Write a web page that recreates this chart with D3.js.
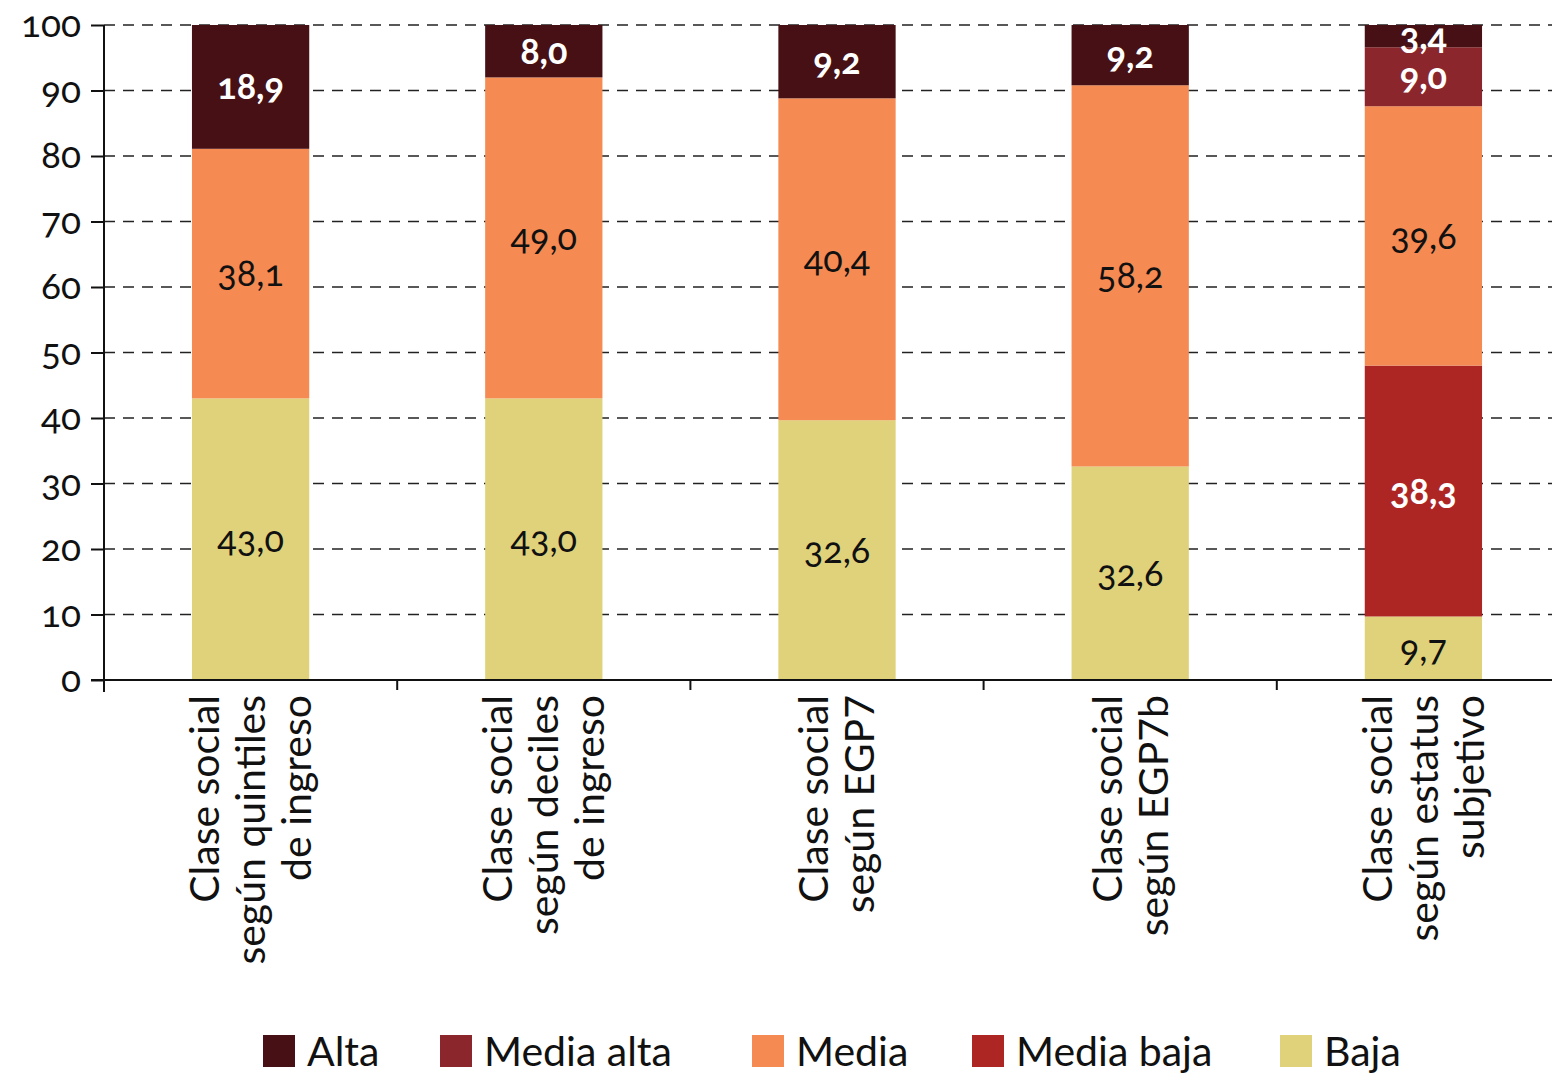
<!DOCTYPE html>
<html>
<head>
<meta charset="utf-8">
<title>Clase social</title>
<script src="https://d3js.org/d3.v7.min.js"></script>
<style>
  body { margin: 0; background: #fff; }
  text { font-family: Lato, "Open Sans", sans-serif; }
  .num { font-variant-numeric: oldstyle-nums; font-feature-settings: "onum" 1; }
</style>
</head>
<body>
<script>
// datos
var categories = [
    ["Clase social", "según quintiles", "de ingreso"],
    ["Clase social", "según deciles", "de ingreso"],
    ["Clase social", "según EGP7"],
    ["Clase social", "según EGP7b"],
    ["Clase social", "según estatus", "subjetivo"]
];
var seriesNames = ["Alta", "Media alta", "Media", "Media baja", "Baja"];
var alta      = [18.9, 8.0, 9.2, 9.2, 3.4];
var mediaAlta = [0, 0, 0, 0, 9.0];
var media     = [38.1, 49.0, 40.4, 58.2, 39.6];
var mediaBaja = [0, 0, 0, 0, 38.3];
var baja      = [43.0, 43.0, 32.6, 32.6, 9.7];
var yTicks = [0, 10, 20, 30, 40, 50, 60, 70, 80, 90, 100];

var colors = {
    "Alta": "#461014",
    "Media alta": "#8b272c",
    "Media": "#f58a53",
    "Media baja": "#ad2624",
    "Baja": "#e0d27a"
};
var whiteLabel = { "Alta": true, "Media alta": true, "Media baja": true };

var W = 1552, H = 1074;
var mLeft = 104, mTop = 25, yBase = 680;

var svg = d3.select("body").append("svg")
    .attr("width", W)
    .attr("height", H);

// tabla para d3.stack
var table = categories.map(function(c, i) {
    return {
        idx: i,
        "Alta": alta[i],
        "Media alta": mediaAlta[i],
        "Media": media[i],
        "Media baja": mediaBaja[i],
        "Baja": baja[i]
    };
});
var stackKeys = seriesNames.slice().reverse(); // Baja abajo
var stacked = d3.stack().keys(stackKeys).offset(d3.stackOffsetExpand)(table);

var xScale = d3.scaleBand()
    .domain(d3.range(categories.length))
    .range([mLeft, mLeft + 5 * 293.2])
    .paddingInner(0)
    .paddingOuter(0);
var barW = xScale.bandwidth() * 0.4;

var yScale = d3.scaleLinear().domain([0, 1]).range([yBase, mTop]);

// líneas de cuadrícula
svg.selectAll(".grid")
    .data(yTicks.filter(function(t) { return t > 0; }))
    .enter()
    .append("line")
    .attr("x1", mLeft)
    .attr("x2", W)
    .attr("y1", function(d) { return yScale(d / 100); })
    .attr("y2", function(d) { return yScale(d / 100); })
    .style("stroke", "#222")
    .style("stroke-width", 1.6)
    .style("stroke-dasharray", "11,8");

// barras
var layer = svg.selectAll(".layer")
    .data(stacked)
    .enter()
    .append("g")
    .style("fill", function(d) { return colors[d.key]; });

layer.selectAll("rect")
    .data(function(d) { return d; })
    .enter()
    .append("rect")
    .attr("x", function(d) { return xScale(d.data.idx) + (xScale.bandwidth() - barW) / 2; })
    .attr("y", function(d) { return yScale(d[1]); })
    .attr("width", barW)
    .attr("height", function(d) { return yScale(d[0]) - yScale(d[1]); });

// etiquetas de valores
var fmt = function(v) { return d3.format(".1f")(v).replace(".", ","); };
stacked.forEach(function(s) {
    svg.selectAll(null)
        .data(s.filter(function(d) { return d.data[s.key] > 0; }))
        .enter()
        .append("text")
        .attr("class", "num")
        .attr("x", function(d) { return xScale(d.data.idx) + xScale.bandwidth() / 2; })
        .attr("y", function(d) { return (yScale(d[0]) + yScale(d[1])) / 2; })
        .attr("dy", "0.35em")
        .style("text-anchor", "middle")
        .style("font-size", "36px")
        .style("font-weight", whiteLabel[s.key] ? "bold" : "normal")
        .style("fill", whiteLabel[s.key] ? "#fff" : "#111")
        .text(function(d) { return fmt(d.data[s.key]); });
});

// eje Y
var yAxis = d3.axisLeft(yScale)
    .tickValues(yTicks.map(function(t) { return t / 100; }))
    .tickFormat(function(d) { return Math.round(d * 100); })
    .tickSize(13)
    .tickPadding(10);
var gy = svg.append("g")
    .attr("transform", "translate(" + mLeft + ",0)")
    .call(yAxis);
gy.select(".domain").remove();
gy.selectAll(".tick line").style("stroke", "#111").style("stroke-width", 2);
gy.selectAll(".tick text")
    .attr("class", "num")
    .style("font-size", "37px")
    .style("font-family", "Lato, sans-serif")
    .style("fill", "#111");

svg.append("line")
    .attr("x1", mLeft).attr("x2", mLeft)
    .attr("y1", mTop).attr("y2", yBase + 12)
    .style("stroke", "#111").style("stroke-width", 2);

// eje X
svg.append("line")
    .attr("x1", mLeft - 13).attr("x2", W)
    .attr("y1", yBase).attr("y2", yBase)
    .style("stroke", "#111").style("stroke-width", 2);

svg.selectAll(".xtick")
    .data(d3.range(1, categories.length))
    .enter()
    .append("line")
    .attr("x1", function(d) { return xScale(d); })
    .attr("x2", function(d) { return xScale(d); })
    .attr("y1", yBase)
    .attr("y2", yBase + 10)
    .style("stroke", "#111").style("stroke-width", 2);

// nombres de categorías (verticales)
var lineGap = 46;
categories.forEach(function(lines, i) {
    var cx = xScale(i) + xScale.bandwidth() / 2;
    var g = svg.append("g")
        .attr("transform", "translate(" + cx + "," + (yBase + 15) + ") rotate(-90)");
    g.selectAll("text")
        .data(lines)
        .enter()
        .append("text")
        .attr("x", 0)
        .attr("y", function(d, j) { return (j - (lines.length - 1) / 2) * lineGap; })
        .attr("dy", "0.35em")
        .style("text-anchor", "end")
        .style("font-size", "41px")
        .style("fill", "#111")
        .text(function(d) { return d; });
});

// leyenda
var legendX = [263, 440, 752, 972, 1280];
var legend = svg.selectAll(".legend")
    .data(seriesNames)
    .enter()
    .append("g")
    .attr("transform", function(d, i) { return "translate(" + legendX[i] + ",1035)"; });
legend.append("rect")
    .attr("width", 32)
    .attr("height", 32)
    .style("fill", function(d) { return colors[d]; });
legend.append("text")
    .attr("x", 44)
    .attr("y", 17)
    .attr("dy", "0.35em")
    .style("font-size", "41px")
    .style("fill", "#111")
    .text(function(d) { return d; });
</script>
</body>
</html>
